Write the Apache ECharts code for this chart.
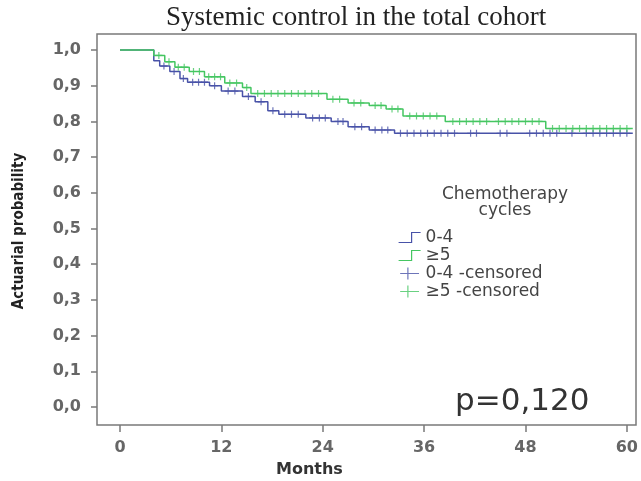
<!DOCTYPE html>
<html>
<head>
<meta charset="utf-8">
<script src="https://cdn.jsdelivr.net/npm/echarts@6/dist/echarts.min.js"></script>
<style>
  html, body { margin: 0; padding: 0; background: #fff; }
  #chart { width: 641px; height: 481px; }
</style>
</head>
<body>
<div id="chart"></div>
<script>
// Kaplan-Meier step curves: [month, survival after the event at that month]
const curve04 = [
  [0, 1.0], [4.0, 0.97], [4.7, 0.955], [5.9, 0.94], [7.1, 0.92], [8.0, 0.91],
  [10.6, 0.90], [12.0, 0.885], [14.5, 0.87], [16.0, 0.855], [17.5, 0.83],
  [18.8, 0.82], [22.0, 0.81], [25.0, 0.80], [27.0, 0.785], [29.5, 0.776],
  [32.5, 0.767], [60.7, 0.767]
];
const curve5plus = [
  [0, 1.0], [4.0, 0.985], [5.3, 0.967], [6.5, 0.952], [8.2, 0.94], [10.0, 0.925],
  [12.4, 0.908], [14.5, 0.895], [15.5, 0.878], [24.5, 0.862], [27.0, 0.852],
  [29.5, 0.845], [31.5, 0.835], [33.5, 0.815], [38.5, 0.80], [50.4, 0.78],
  [60.7, 0.78]
];
// Censored observations: [month, survival]
const censored04 = [
  [5.2, 0.955], [6.4, 0.94], [7.5, 0.92], [8.6, 0.91], [9.3, 0.91], [10.0, 0.91],
  [11.2, 0.90], [12.8, 0.885], [13.6, 0.885], [15.2, 0.87], [16.7, 0.855],
  [18.1, 0.83], [19.5, 0.82], [20.3, 0.82], [21.1, 0.82], [22.8, 0.81],
  [23.6, 0.81], [24.3, 0.81], [25.8, 0.80], [26.4, 0.80], [27.8, 0.785],
  [28.6, 0.785], [30.2, 0.776], [31.0, 0.776], [31.7, 0.776], [33.2, 0.767],
  [34.0, 0.767], [34.8, 0.767], [35.6, 0.767], [36.4, 0.767], [37.2, 0.767],
  [38.0, 0.767], [38.8, 0.767], [39.6, 0.767], [41.5, 0.767], [42.2, 0.767],
  [45.0, 0.767], [45.8, 0.767], [48.5, 0.767], [49.3, 0.767], [50.1, 0.767],
  [50.9, 0.767], [51.7, 0.767], [53.5, 0.767], [55.2, 0.767], [56.0, 0.767],
  [56.8, 0.767], [57.6, 0.767], [58.4, 0.767], [59.2, 0.767], [60.0, 0.767]
];
const censored5plus = [
  [4.6, 0.985], [5.8, 0.967], [6.9, 0.952], [7.6, 0.952], [8.7, 0.94], [9.4, 0.94],
  [10.5, 0.925], [11.2, 0.925], [11.9, 0.925], [13.0, 0.908], [13.8, 0.908],
  [15.0, 0.895], [16.3, 0.878], [17.1, 0.878], [17.9, 0.878], [18.7, 0.878],
  [19.5, 0.878], [20.3, 0.878], [21.1, 0.878], [21.9, 0.878], [22.7, 0.878],
  [23.5, 0.878], [25.2, 0.862], [26.0, 0.862], [27.7, 0.852], [28.5, 0.852],
  [30.2, 0.845], [30.9, 0.845], [32.2, 0.835], [32.9, 0.835], [34.3, 0.815],
  [35.1, 0.815], [35.9, 0.815], [36.7, 0.815], [37.5, 0.815], [39.4, 0.80],
  [40.2, 0.80], [41.0, 0.80], [41.8, 0.80], [42.6, 0.80], [43.4, 0.80],
  [44.8, 0.80], [45.6, 0.80], [46.4, 0.80], [47.2, 0.80], [48.0, 0.80],
  [48.8, 0.80], [49.6, 0.80], [51.2, 0.78], [52.0, 0.78], [52.8, 0.78],
  [53.6, 0.78], [54.4, 0.78], [55.2, 0.78], [56.0, 0.78], [56.8, 0.78],
  [57.6, 0.78], [58.4, 0.78], [59.2, 0.78], [60.0, 0.78]
];
const groupNames = ['0-4', '≥5', '0-4 -censored', '≥5 -censored'];

const BLUE = '#4852a8';
const GREEN = '#45c662';
const AXIS_GREY = '#7a7a7a';

const stepIcon = 'path://M0,12 L13,12 L13,2 L22,2';
const crossIcon = 'path://M0,7 L22,7 M9,0 L9,14';
const plusSymbol = 'path://M0,5 L10,5 M5,0 L5,10';

// Plot area spans month 0..60.7 and probability 0..1.045; the axes are
// pushed outwards so the frame leaves a margin round the data.
const chart = echarts.init(document.getElementById('chart'), null, { renderer: 'canvas' });

chart.setOption({
  backgroundColor: '#ffffff',
  animation: false,
  title: {
    text: 'Systemic control in the total cohort',
    left: 161,
    top: -1,
    textStyle: {
      fontFamily: 'Liberation Serif',
      fontSize: 27,
      fontWeight: 'normal',
      color: '#222'
    }
  },
  grid: {
    left: 120, top: 34, right: 5, bottom: 74
  },
  legend: {
    orient: 'vertical',
    left: 393,
    top: 224,
    itemWidth: 22,
    itemHeight: 12,
    itemGap: 1,
    textStyle: { fontFamily: 'DejaVu Sans', fontSize: 17, color: '#444' },
    data: [
      { name: groupNames[0], icon: stepIcon,
        itemStyle: { color: 'transparent', borderColor: BLUE, borderWidth: 1.2 } },
      { name: groupNames[1], icon: stepIcon,
        itemStyle: { color: 'transparent', borderColor: GREEN, borderWidth: 1.2 } },
      { name: groupNames[2], icon: crossIcon,
        itemStyle: { color: 'transparent', borderColor: BLUE, borderWidth: 1.2 } },
      { name: groupNames[3], icon: crossIcon,
        itemStyle: { color: 'transparent', borderColor: GREEN, borderWidth: 1.2 } }
    ]
  },
  xAxis: {
    type: 'value',
    min: 0,
    max: 60.7,
    interval: 12,
    offset: 18,
    axisLine: { show: false, onZero: false },
    splitLine: { show: false },
    axisTick: {
      show: true, inside: false, length: 7,
      lineStyle: { color: AXIS_GREY, width: 1.5 }
    },
    axisLabel: {
      margin: 15,
      showMaxLabel: false,
      fontFamily: 'DejaVu Sans',
      fontSize: 16,
      fontWeight: 'bold',
      color: '#666'
    }
  },
  yAxis: {
    type: 'value',
    min: 0,
    max: 1.045,
    interval: 0.1,
    offset: 23,
    axisLine: { show: false, onZero: false },
    splitLine: { show: false },
    axisTick: {
      show: true, inside: false, length: 6,
      lineStyle: { color: AXIS_GREY, width: 1.5 }
    },
    axisLabel: {
      margin: 16,
      showMaxLabel: false,
      fontFamily: 'DejaVu Sans',
      fontSize: 16,
      fontWeight: 'bold',
      color: '#666',
      formatter: v => v.toFixed(1).replace('.', ',')
    }
  },
  graphic: [
    {
      // plot frame
      type: 'rect', z: 0,
      shape: { x: 97, y: 34, width: 539, height: 391 },
      style: { fill: 'none', stroke: AXIS_GREY, lineWidth: 1.5 }
    },
    {
      // y-axis title
      type: 'text', x: 19, y: 231, rotation: Math.PI / 2,
      style: {
        text: 'Actuarial probability',
        font: "bold 15px 'DejaVu Sans Condensed', 'Liberation Sans'",
        fill: '#222', align: 'center', verticalAlign: 'middle'
      }
    },
    {
      type: 'text', left: 276, top: 462,
      style: { text: 'Months', font: 'bold 16px "DejaVu Sans"', fill: '#333' }
    },
    {
      type: 'text', x: 505, y: 187,
      style: {
        text: 'Chemotherapy\ncycles', font: '17px "DejaVu Sans"', fill: '#444',
        align: 'center', lineHeight: 16
      }
    },
    {
      type: 'text', left: 455, top: 386,
      style: { text: 'p=0,120', font: '31px "DejaVu Sans"', fill: '#333' }
    }
  ],
  series: [
    {
      name: groupNames[0], type: 'line', step: 'end', data: curve04,
      showSymbol: false, color: BLUE,
      lineStyle: { color: BLUE, width: 1.5 }, z: 3
    },
    {
      name: groupNames[1], type: 'line', step: 'end', data: curve5plus,
      showSymbol: false, color: GREEN,
      lineStyle: { color: GREEN, width: 1.5 }, z: 3
    },
    {
      name: groupNames[2], type: 'scatter', data: censored04,
      symbol: plusSymbol, symbolSize: 7, color: BLUE,
      itemStyle: { color: 'transparent', borderColor: BLUE, borderWidth: 1.2 }, z: 4
    },
    {
      name: groupNames[3], type: 'scatter', data: censored5plus,
      symbol: plusSymbol, symbolSize: 7, color: GREEN,
      itemStyle: { color: 'transparent', borderColor: GREEN, borderWidth: 1.2 }, z: 4
    }
  ]
});
</script>
</body>
</html>
